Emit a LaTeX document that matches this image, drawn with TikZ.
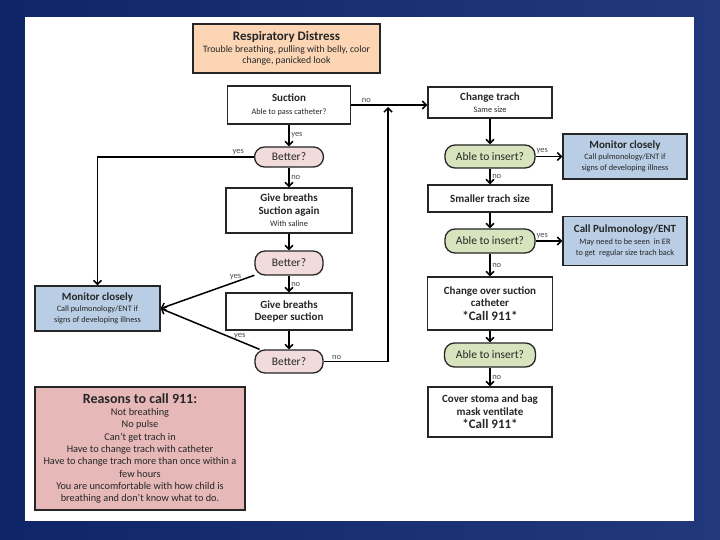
\documentclass[tikz,border=0pt]{standalone}
\usepackage{fontspec}
\setmainfont{Carlito}
\usetikzlibrary{arrows.meta,positioning}
\definecolor{navyL}{RGB}{14,38,104}
\definecolor{navyR}{RGB}{34,56,124}
\definecolor{peach}{RGB}{252,213,181}
\definecolor{pinkask}{RGB}{242,220,219}
\definecolor{greenask}{RGB}{215,228,189}
\definecolor{bluebox}{RGB}{185,205,229}
\definecolor{rosebox}{RGB}{230,185,184}
\newcommand{\boxtitle}[1]{{\fontsize{11}{13}\selectfont\bfseries #1}}
\newcommand{\callnine}{{\fontsize{13}{15}\selectfont\bfseries *Call 911*}}

\begin{document}
\begin{tikzpicture}[x=1pt,y=-1pt,
   box/.style={draw=black!85,line width=1.3pt,fill=white,align=center,inner sep=1pt,
     text=black!85,font=\fontsize{8.3}{12.5}\selectfont},
   ask/.style={box,rounded corners=10pt,font=\fontsize{11.5}{13}\selectfont},
   arr/.style={draw,line width=1.5pt,-{Straight Barb[length=4pt,width=8pt]}},
   lbl/.style={font=\fontsize{8.5}{9}\selectfont,text=black!70,inner sep=1.5pt}]
   \useasboundingbox (0,0) rectangle (720,540);
   \shade[left color=navyL,right color=navyR] (0,0) rectangle (720,540);
   \fill[white] (25,17) rectangle (694,521);

   % left column
   \node[box,fill=peach,minimum width=187pt,minimum height=49pt,font=\fontsize{9.8}{11.5}\selectfont] (distress) at (286.5,48.5)
      {{\fontsize{13}{15}\selectfont\bfseries Respiratory Distress}\\Trouble breathing, pulling with belly, color\\change, panicked look};
   \node[box,minimum width=123pt,minimum height=38pt] (suction) at (289,105) {\boxtitle{Suction}\\Able to pass catheter?};
   \node[ask,fill=pinkask,minimum width=69pt,minimum height=20pt] (better1) at (289,157) {Better?};
   \node[box,minimum width=126pt,minimum height=45pt] (again) at (289,210.5) {\boxtitle{Give breaths}\\\boxtitle{Suction again}\\With saline};
   \node[ask,fill=pinkask,minimum width=68pt,minimum height=24pt] (better2) at (289,263) {Better?};
   \node[box,minimum width=126pt,minimum height=37pt] (deeper) at (289,311.5) {\boxtitle{Give breaths}\\\boxtitle{Deeper suction}};
   \node[ask,fill=pinkask,minimum width=68pt,minimum height=23pt] (better3) at (289,361.5) {Better?};
   \node[box,fill=bluebox,minimum width=125pt,minimum height=45pt,font=\fontsize{8.3}{11}\selectfont] (monL) at (97.5,308.5)
      {\boxtitle{Monitor closely}\\Call pulmonology/ENT if\\signs of developing illness};
   \node[box,fill=rosebox,minimum width=210pt,minimum height=123pt,font=\fontsize{10.3}{12.3}\selectfont] (reasons) at (140,448.5)
      {{\fontsize{14}{16}\selectfont\bfseries Reasons to call 911:}\\Not breathing\\No pulse\\Can't get trach in\\Have to change trach with catheter\\
       Have to change trach more than once within a\\few hours\\You are uncomfortable with how child is\\breathing and don't know what to do.};

   % right column
   \node[box,minimum width=124pt,minimum height=31pt] (change) at (490,102.5) {\boxtitle{Change trach}\\Same size};
   \node[ask,fill=greenask,minimum width=90pt,minimum height=23pt] (able1) at (490,156.5) {Able to insert?};
   \node[box,fill=bluebox,minimum width=124pt,minimum height=45pt,font=\fontsize{8.3}{11}\selectfont] (monR) at (625,156.5)
      {\boxtitle{Monitor closely}\\Call pulmonology/ENT if\\signs of developing illness};
   \node[box,minimum width=124pt,minimum height=27pt] (smaller) at (490,198.5) {\boxtitle{Smaller trach size}};
   \node[ask,fill=greenask,minimum width=90pt,minimum height=24pt] (able2) at (490,241) {Able to insert?};
   \node[box,fill=bluebox,minimum width=124pt,minimum height=49pt,font=\fontsize{8.3}{11.5}\selectfont] (pulm) at (625,241)
      {\boxtitle{Call Pulmonology/ENT}\\May need to be seen\ \ in ER\\to get\ \ regular size trach back};
   \node[box,minimum width=125pt,minimum height=53pt] (over) at (490,303.5) {\boxtitle{Change over suction}\\\boxtitle{catheter}\\[1pt]\callnine};
   \node[ask,fill=greenask,minimum width=91pt,minimum height=24pt] (able3) at (490,355) {Able to insert?};
   \node[box,minimum width=124pt,minimum height=50pt] (cover) at (490,412) {\boxtitle{Cover stoma and bag}\\\boxtitle{mask ventilate}\\[1pt]\callnine};
   \coordinate (join) at (388,107);

   \foreach \source/\dest/\txt in {suction/better1/yes, better1/again/no, again/better2/, better2/deeper/no,
      deeper/better3/, change/able1/, able1/smaller/no, smaller/able2/, able2/over/no, over/able3/, able3/cover/no}
   \path[arr] (\source) -- node[lbl,right] {\txt} (\dest);
   \foreach \source/\dest in {able1/monR, able2/pulm} % yes to the side boxes
   \path[arr] (\source) -- node[lbl,above,pos=0.25] {yes} (\dest);
   \path[arr] (better1) -| node[lbl,above,pos=0.05] {yes} (monL);
   \path[arr] (better2) -- node[lbl,above,pos=0.2] {yes} (monL.east);
   \path[arr] (better3) -- node[lbl,above,pos=0.2] {yes} (monL.east);
   \path[arr] (better3) -| node[lbl,above,pos=0.1] {no} (join);
   \path[arr] (suction) -- node[lbl,above,pos=0.2] {no} (suction.east -| change.west);
\end{tikzpicture}
\end{document}
